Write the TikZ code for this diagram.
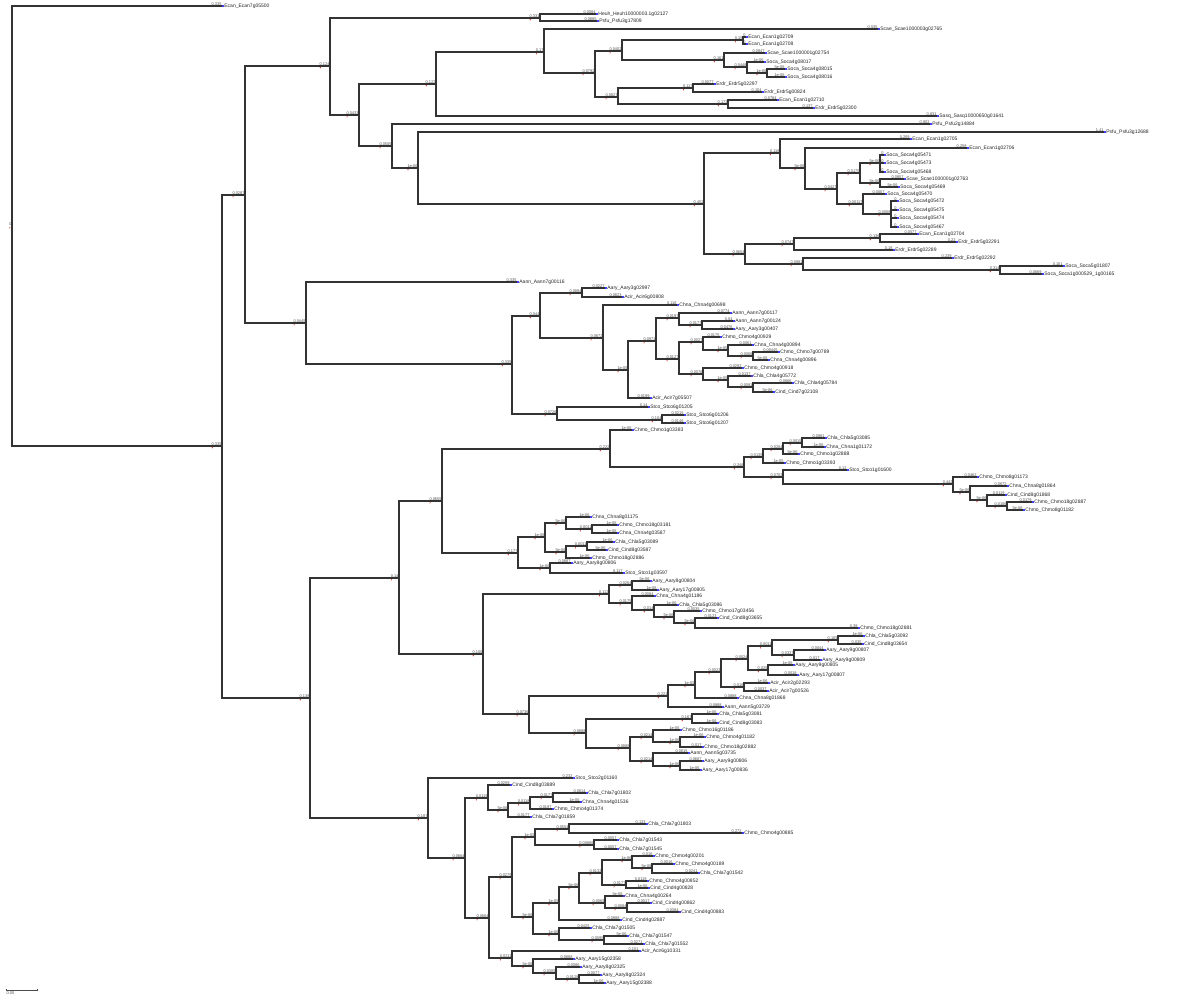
\documentclass[tikz,border=0pt]{standalone}
\usepackage{fontspec}
\setmainfont{Liberation Sans}
\tikzset{
  br/.style={draw=black!80, line width=1.2pt},
  bl/.style={anchor=south east, inner sep=0.3pt, font=\fontsize{3.9}{4}\selectfont, text=black!70},
  lf/.style={anchor=west, inner sep=0.3pt, xshift=1.9pt, font=\fontsize{5}{5}\selectfont, text=black!85},
  redm/.style={fill=red!85!black},
  bluem/.style={fill=blue!75}
}
\newcommand\N[5]{%
  \coordinate (#2) at (#3,#4);
  \draw[br] (#1) |- (#2);
  \node[bl] (#2l) at (#2) {#5};
  \fill[redm] ([xshift=1pt,yshift=-1.8pt]#2l.south west) circle (0.6pt);}
\newcommand\Lf[6]{%
  \coordinate (#2) at (#3,#4);
  \draw[br] (#1) |- (#2);
  \node[bl] (#2l) at (#2) {#5};
  \fill[bluem] ([xshift=0.2pt,yshift=-0.7pt]#2) rectangle +(1.6pt,1.4pt);
  \node[lf] (#2t) at (#2) {#6};}
\begin{document}
\begin{tikzpicture}[x=1pt,y=-1pt]
\fill[white] (0,0) rectangle (1200,1000);
\useasboundingbox (0,0) rectangle (1200,1000);
% root
\coordinate (R) at (12,226);
\node[bl] (Rl) at (R) {0};
\fill[redm] ([xshift=1pt,yshift=-1.8pt]Rl.south west) circle (0.6pt);
\Lf{R}{l1}{222}{6}{0.335}{Ecan\_Ecan7g05500}
\N{R}{A}{222}{446}{0.335}
\N{A}{B}{245}{195}{0.0287}
\N{A}{C}{310}{698}{0.138}
\N{B}{D}{330}{66}{0.124}
\N{B}{E}{306}{323}{0.0445}
% top group
\N{D}{Da}{540}{18}{0.331}
\Lf{Da}{l2}{596}{14}{0.0084}{Heuh\_Heuh10000003.1g02127}
\Lf{Da}{l3}{597}{21}{0.0885}{Psfu\_Psfu3g17809}
\N{D}{Db}{359}{115}{0.0433}
\N{Db}{Dc}{436}{84}{0.122}
\N{Dc}{Dd}{544}{52}{0.17}
\Lf{Dd}{l4}{878}{29}{0.535}{Scae\_Scae1000003g02765}
\N{Dd}{De}{595}{73}{0.0792}
\N{De}{F1}{622}{51}{0.0402}
\N{F1}{F1a}{743}{40}{0.15}
\Lf{F1a}{l5}{746}{37}{0}{Ecan\_Ecan1g02709}
\Lf{F1a}{l6}{746}{44}{0}{Ecan\_Ecan1g02708}
\N{F1}{F1b}{724}{60}{0.161}
\Lf{F1b}{l7}{765}{53}{0.0847}{Scae\_Scae1000001g02754}
\N{F1b}{F1c}{747}{67}{0.0448}
\Lf{F1c}{l8}{764}{62}{1e-06}{Soca\_Soca4g08017}
\N{F1c}{F1d}{767}{73}{1e-06}
\Lf{F1d}{l9}{785}{69}{5e-06}{Soca\_Soca4g08015}
\Lf{F1d}{l10}{785}{77}{1e-06}{Soca\_Soca4g08016}
\N{De}{F2}{618}{97}{0.0827}
\N{F2}{F2a}{693}{88}{0.117}
\Lf{F2a}{l11}{714}{84}{0.0077}{Erdr\_Erdr5g02297}
\Lf{F2a}{l12}{762}{92}{0.104}{Erdr\_Erdr5g00824}
\N{F2}{F2b}{728}{104}{0.173}
\Lf{F2b}{l13}{777}{100}{0.0784}{Ecan\_Ecan1g02710}
\Lf{F2b}{l14}{813}{108}{0.137}{Erdr\_Erdr5g02300}
\Lf{Dc}{l15}{937}{116}{0.831}{Sasq\_Sasq10000650g01641}
\N{Db}{Df}{392}{146}{0.0505}
\Lf{Df}{l16}{930}{124}{0.802}{Psfu\_Psfu2g14884}
\N{Df}{Dg}{418}{168}{1e-06}
\Lf{Dg}{l17}{1104}{132}{1.41}{Psfu\_Psfu3g12688}
\N{Dg}{G}{704}{204}{0.452}
\N{G}{G1}{780}{153}{0.118}
\Lf{G1}{l18}{910}{139}{0.209}{Ecan\_Ecan1g02705}
\N{G1}{G1b}{805}{168}{5e-06}
\Lf{G1b}{l19}{967}{148}{0.258}{Ecan\_Ecan1g02706}
\N{G1b}{G1c}{837}{189}{0.0427}
\N{G1c}{G3}{860}{173}{0.0175}
\N{G3}{G3a}{880}{163}{5e-06}
\Lf{G3a}{l20}{884}{155}{0}{Soca\_Soca4g05471}
\Lf{G3a}{l21}{884}{163}{0}{Soca\_Soca4g05473}
\Lf{G3a}{l22}{884}{172}{0}{Soca\_Soca4g05468}
\N{G3}{G3b}{880}{183}{5e-06}
\Lf{G3b}{l23}{904}{179}{0.0857}{Scae\_Scae1000001g02763}
\Lf{G3b}{l24}{898}{187}{5e-06}{Soca\_Soca4g05469}
\N{G1c}{G4}{863}{204}{0.00117}
\Lf{G4}{l25}{885}{194}{0.0007}{Soca\_Soca4g05470}
\N{G4}{G4b}{891}{214}{0.0008}
\Lf{G4b}{l26}{897}{201}{0}{Soca\_Soca4g05472}
\Lf{G4b}{l27}{897}{210}{0}{Soca\_Soca4g05475}
\Lf{G4b}{l28}{897}{218}{0}{Soca\_Soca4g05474}
\Lf{G4b}{l29}{897}{227}{0}{Soca\_Soca4g05467}
\N{G}{G2}{745}{254}{0.0654}
\N{G2}{G2a}{794}{244}{0.0747}
\N{G2a}{G2c}{880}{238}{0.136}
\Lf{G2c}{l30}{917}{234}{0.0577}{Ecan\_Ecan1g02704}
\Lf{G2c}{l31}{956}{242}{0.22}{Erdr\_Erdr5g02291}
\Lf{G2a}{l32}{893}{250}{0.18}{Erdr\_Erdr5g02289}
\N{G2}{G2b}{803}{264}{0.0881}
\Lf{G2b}{l33}{952}{258}{0.239}{Erdr\_Erdr5g02292}
\N{G2b}{G2d}{1000}{270}{0.314}
\Lf{G2d}{l34}{1063}{266}{0.101}{Soca\_Soca5g01807}
\Lf{G2d}{l35}{1042}{274}{0.0669}{Soca\_Soca1g000529\_1g00165}
% E group
\Lf{E}{l36}{517}{282}{0.335}{Aann\_Aann7g00116}
\N{E}{E2}{512}{364}{0.335}
\N{E2}{E2a}{540}{316}{0.044}
\N{E2a}{E2b}{582}{293}{0.0884}
\Lf{E2b}{l37}{605}{288}{0.0227}{Aary\_Aary3g02997}
\Lf{E2b}{l38}{622}{297}{0.0823}{Acir\_Acir6g00808}
\N{E2a}{E2c}{603}{338}{0.0872}
\Lf{E2c}{l39}{677}{305}{0.116}{Chna\_Chna4g00698}
\N{E2c}{E2d}{628}{370}{1e-05}
\N{E2d}{H1}{656}{341}{0.0971}
\N{H1}{H1a}{679}{318}{0.0197}
\Lf{H1a}{l40}{730}{313}{0.0774}{Aann\_Aann7g00117}
\N{H1a}{H1c}{702}{325}{0.0177}
\Lf{H1c}{l41}{733}{321}{0.04}{Aann\_Aann7g00124}
\Lf{H1c}{l42}{733}{329}{0.0476}{Aary\_Aary3g00407}
\N{H1}{H1b}{679}{359}{0.0127}
\N{H1b}{H1d}{703}{342}{0.0027}
\Lf{H1d}{l43}{720}{337}{0.0175}{Chmo\_Chmo4g00929}
\N{H1d}{H1e}{728}{350}{1e-05}
\Lf{H1e}{l44}{752}{345}{0.0061}{Chna\_Chna4g00894}
\N{H1e}{H1f}{753}{356}{0.0066}
\Lf{H1f}{l45}{778}{352}{0.00445}{Chmo\_Chmo7g00789}
\Lf{H1f}{l46}{768}{360}{5e-06}{Chna\_Chna4g00896}
\N{H1b}{H1g}{703}{374}{0.0076}
\Lf{H1g}{l47}{742}{368}{0.0292}{Chmo\_Chmo4g00918}
\N{H1g}{H1h}{728}{380}{1e-05}
\Lf{H1h}{l48}{751}{376}{0.0137}{Chla\_Chla4g05772}
\N{H1h}{H1i}{753}{387}{0.0091}
\Lf{H1i}{l49}{792}{383}{0.0666}{Chla\_Chla4g05784}
\Lf{H1i}{l50}{773}{392}{5e-06}{Cind\_Cind7g02108}
\Lf{E2d}{l51}{650}{398}{0.0199}{Acir\_Acir7g05507}
\N{E2}{E2e}{557}{414}{0.0726}
\Lf{E2e}{l52}{648}{407}{0.14}{Stco\_Stco6g01205}
\N{E2e}{E2f}{662}{420}{0.104}
\Lf{E2f}{l53}{684}{415}{0.0215}{Stco\_Stco6g01206}
\Lf{E2f}{l54}{684}{423}{0.0146}{Stco\_Stco6g01207}
% C group
\N{C}{C1}{399}{578}{0.14}
\N{C1}{C1a}{442}{501}{0.0655}
\N{C1a}{K}{610}{449}{0.222}
\Lf{K}{l55}{632}{430}{1e-06}{Chmo\_Chmo1g03383}
\N{K}{Ka}{744}{467}{0.248}
\N{Ka}{K1}{763}{457}{0.0135}
\N{K1}{K1a}{783}{449}{0.0204}
\N{K1a}{K1b}{802}{443}{0.0015}
\Lf{K1b}{l56}{825}{438}{0.0881}{Chla\_Chla5g03085}
\Lf{K1b}{l57}{824}{447}{1e-06}{Chna\_Chna1g01172}
\Lf{K1a}{l58}{798}{454}{5e-06}{Chmo\_Chmo1g02888}
\Lf{K1}{l59}{784}{463}{1e-05}{Chmo\_Chmo1g03393}
\N{Ka}{K2}{783}{477}{0.0703}
\Lf{K2}{l60}{847}{470}{0.12}{Stco\_Stco1g01600}
\N{K2}{K2b}{953}{484}{0.442}
\Lf{K2b}{l61}{977}{477}{0.0462}{Chmo\_Chmo8g01173}
\N{K2b}{K2c}{970}{492}{5e-06}
\Lf{K2c}{l62}{1007}{486}{0.0672}{Chna\_Chna8g01864}
\N{K2c}{K2d}{987}{500}{5e-06}
\Lf{K2d}{l63}{1005}{495}{0.0119}{Cind\_Cind8g01868}
\N{K2d}{K2e}{1007}{506}{0.0106}
\Lf{K2e}{l64}{1032}{502}{0.0179}{Chmo\_Chmo18g02887}
\Lf{K2e}{l65}{1023}{510}{5e-06}{Chmo\_Chmo8g01182}
\N{C1a}{C1c}{518}{553}{0.177}
\N{C1c}{S1}{545}{537}{1e-06}
\N{S1}{S1a}{566}{523}{5e-06}
\Lf{S1a}{l66}{590}{517}{1e-06}{Chna\_Chna8g01175}
\N{S1a}{S1b}{592}{529}{0.0011}
\Lf{S1b}{l67}{617}{525}{1e-06}{Chmo\_Chmo18g03181}
\Lf{S1b}{l68}{617}{533}{1e-06}{Chna\_Chna4g03587}
\N{S1}{S1c}{566}{552}{5e-06}
\N{S1c}{S1d}{587}{546}{0.0011}
\Lf{S1d}{l69}{613}{542}{1e-06}{Chla\_Chla5g03089}
\Lf{S1d}{l70}{606}{550}{5e-06}{Cind\_Cind8g03587}
\Lf{S1c}{l71}{590}{558}{1e-06}{Chmo\_Chmo18g02886}
\N{C1c}{S2}{550}{568}{1e-06}
\Lf{S2}{l72}{571}{563}{0.0887}{Aary\_Aary8g00806}
\Lf{S2}{l73}{623}{573}{0.117}{Stco\_Stco1g03597}
\N{C1}{C1b}{483}{654}{0.106}
\N{C1b}{L}{609}{594}{0.112}
\N{L}{L1}{632}{585}{0.0264}
\Lf{L1}{l74}{650}{581}{5e-06}{Aary\_Aary8g00804}
\Lf{L1}{l75}{657}{590}{1e-06}{Aary\_Aary17g00805}
\N{L}{L2}{632}{603}{0.0175}
\Lf{L2}{l76}{654}{596}{0.0084}{Chna\_Chna4g01186}
\N{L2}{L3}{654}{610}{0.014}
\Lf{L3}{l77}{677}{605}{1e-06}{Chla\_Chla5g03086}
\N{L3}{L4}{674}{617}{5e-06}
\Lf{L4}{l78}{700}{611}{0.0035}{Chmo\_Chmo17g03456}
\N{L4}{L5}{695}{623}{5e-06}
\Lf{L5}{l79}{717}{618}{0.0123}{Cind\_Cind8g03655}
\Lf{L5}{l80}{858}{628}{0.38}{Chmo\_Chmo18g02881}
\N{C1b}{M}{529}{714}{0.0736}
\N{M}{M1}{668}{696}{0.221}
\N{M1}{M1a}{695}{685}{1e-05}
\N{M1a}{M1b}{721}{672}{0.0023}
\N{M1b}{M1c}{748}{659}{0.0024}
\N{M1c}{N1}{772}{646}{0.0011}
\N{N1}{N1a}{838}{640}{0.105}
\Lf{N1a}{l81}{863}{636}{1e-06}{Chla\_Chla5g03092}
\Lf{N1a}{l82}{862}{644}{0.035}{Cind\_Cind8g03654}
\N{N1}{N1b}{794}{655}{0.0337}
\Lf{N1b}{l83}{824}{650}{0.0044}{Aary\_Aary9g00807}
\Lf{N1b}{l84}{820}{660}{0.017}{Aary\_Aary9g00809}
\N{M1c}{N2}{768}{670}{0.025}
\Lf{N2}{l85}{793}{665}{1e-06}{Aary\_Aary9g00805}
\Lf{N2}{l86}{797}{675}{0.0018}{Aary\_Aary17g00807}
\N{M1b}{M1d}{744}{687}{0.016}
\Lf{M1d}{l87}{768}{683}{1e-06}{Acir\_Acir2g02293}
\Lf{M1d}{l88}{767}{691}{0.0037}{Acir\_Acir7g00526}
\Lf{M1a}{l89}{737}{698}{0.0888}{Chna\_Chna8g01868}
\Lf{M1}{l90}{722}{707}{0.0888}{Aann\_Aann5g03729}
\N{M}{M2}{586}{733}{0.0888}
\N{M2}{M2a}{692}{719}{0.167}
\Lf{M2a}{l91}{717}{714}{1e-06}{Chla\_Chla5g03081}
\Lf{M2a}{l92}{717}{723}{1e-06}{Cind\_Cind8g03083}
\N{M2}{M2b}{630}{748}{0.0888}
\N{M2b}{M2c}{653}{737}{0.0214}
\Lf{M2c}{l93}{680}{730}{1e-06}{Chmo\_Chmo16g01186}
\N{M2c}{M2d}{680}{742}{1e-06}
\Lf{M2d}{l94}{704}{737}{1e-06}{Chmo\_Chmo4g01182}
\Lf{M2d}{l95}{702}{747}{0.017}{Chmo\_Chmo18g02882}
\N{M2b}{M2e}{653}{761}{0.0214}
\Lf{M2e}{l96}{688}{753}{0.0815}{Aann\_Aann5g03735}
\N{M2e}{M2f}{680}{766}{1e-06}
\Lf{M2f}{l97}{702}{761}{0.0687}{Aary\_Aary9g00806}
\Lf{M2f}{l98}{700}{770}{1e-06}{Aary\_Aary17g00836}
\N{C}{C2}{428}{818}{0.187}
\Lf{C2}{l99}{573}{778}{0.232}{Stco\_Stco2g01160}
\N{C2}{C2b}{465}{858}{0.0664}
\N{C2b}{T}{488}{798}{0.0119}
\Lf{T}{l100}{510}{785}{0.0259}{Cind\_Cind8g03889}
\N{T}{T1}{508}{810}{5e-06}
\N{T1}{T2}{530}{803}{0.0118}
\N{T2}{T3}{553}{797}{0.0177}
\Lf{T3}{l101}{586}{793}{0.0814}{Chla\_Chla7g01802}
\Lf{T3}{l102}{580}{802}{1e-06}{Chna\_Chna4g01536}
\Lf{T2}{l103}{552}{809}{0.0197}{Chmo\_Chmo4g01374}
\Lf{T1}{l104}{530}{817}{0.0177}{Chla\_Chla7g01859}
\N{C2b}{U}{489}{918}{0.0664}
\N{U}{U1}{512}{877}{0.0279}
\N{U1}{U2}{535}{837}{1e-05}
\N{U2}{P1}{569}{829}{0.0554}
\Lf{P1}{l105}{646}{824}{0.133}{Chla\_Chla7g01803}
\Lf{P1}{l106}{742}{833}{0.272}{Chmo\_Chmo4g00885}
\N{U2}{P2}{594}{845}{0.00886}
\Lf{P2}{l107}{617}{840}{0.0057}{Chla\_Chla7g01543}
\Lf{P2}{l108}{617}{849}{0.0057}{Chla\_Chla7g01545}
\N{U1}{Q}{533}{917}{5e-06}
\N{Q}{Q1}{559}{903}{1e-05}
\N{Q1}{Q1a}{579}{887}{5e-06}
\N{Q1a}{Q1b}{602}{873}{0.0132}
\N{Q1b}{Q1c}{632}{860}{1e-06}
\Lf{Q1c}{l109}{653}{856}{0.016}{Chmo\_Chmo4g00201}
\N{Q1c}{Q1d}{652}{868}{5e-06}
\Lf{Q1d}{l110}{673}{864}{0.0016}{Chmo\_Chmo4g00189}
\Lf{Q1d}{l111}{698}{873}{0.0241}{Chla\_Chla7g01542}
\N{Q1b}{Q1e}{626}{885}{0.0177}
\Lf{Q1e}{l112}{647}{881}{0.0119}{Chmo\_Chmo4g00852}
\Lf{Q1e}{l113}{648}{888}{1e-06}{Cind\_Cind4g00828}
\N{Q1a}{Q1f}{605}{903}{0.0069}
\Lf{Q1f}{l114}{623}{896}{5e-06}{Chna\_Chna4g00264}
\N{Q1f}{Q1g}{627}{908}{0.0084}
\Lf{Q1g}{l115}{650}{903}{0.0017}{Cind\_Cind4g00862}
\Lf{Q1g}{l116}{679}{912}{0.0384}{Cind\_Cind4g00883}
\Lf{Q1}{l117}{620}{920}{0.0888}{Cind\_Cind4g02887}
\N{Q}{Q2}{559}{934}{1e-06}
\Lf{Q2}{l118}{590}{928}{0.0425}{Chla\_Chla7g01505}
\N{Q2}{Q2b}{604}{940}{0.0095}
\Lf{Q2b}{l119}{627}{936}{5e-06}{Chla\_Chla7g01547}
\Lf{Q2b}{l120}{643}{944}{0.0271}{Chla\_Chla7g01552}
\N{U}{V}{512}{958}{0.0211}
\Lf{V}{l121}{639}{951}{0.101}{Acir\_Acir6g10331}
\N{V}{V1}{533}{966}{5e-06}
\Lf{V1}{l122}{573}{959}{0.0888}{Aary\_Aary15g02358}
\N{V1}{V2}{556}{973}{0.0305}
\Lf{V2}{l123}{580}{967}{0.0086}{Aary\_Aary8g02325}
\N{V2}{V3}{579}{979}{0.0128}
\Lf{V3}{l124}{600}{975}{0.0077}{Aary\_Aary8g02324}
\Lf{V3}{l125}{604}{983}{1e-06}{Aary\_Aary15g02388}
% scale bar
\coordinate (s0) at (6,990);
\coordinate (s1) at (37,990);
\draw[black!70, line width=0.6pt] (s0) -- (s1);
\draw[black!70, line width=0.6pt] ([yshift=-1.2pt]s0) -- ([yshift=1.2pt]s0);
\draw[black!70, line width=0.6pt] ([yshift=-1.2pt]s1) -- ([yshift=1.2pt]s1);
\node[anchor=north west, inner sep=0.3pt, font=\fontsize{4}{4}\selectfont, text=black!70] (sl) at ([yshift=-1pt]s0) {0.05};
\end{tikzpicture}
\end{document}
